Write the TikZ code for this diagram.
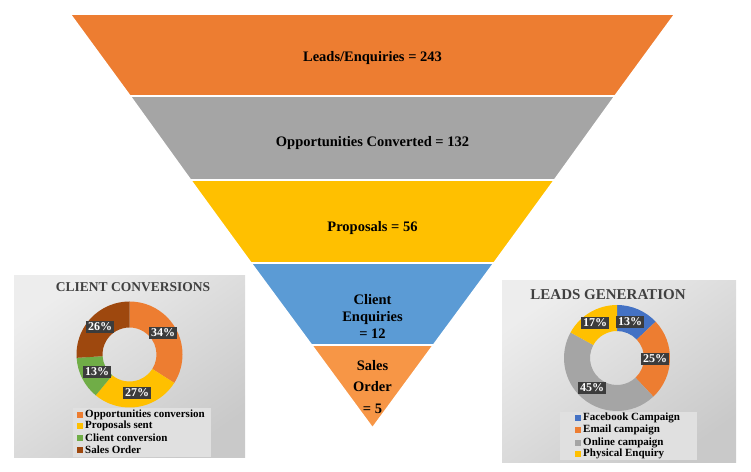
\documentclass[tikz,border=0pt]{standalone}
\usepackage{fontspec}
\setmainfont{Liberation Serif}
\usetikzlibrary{calc,positioning}
\definecolor{leadOrange}{HTML}{ED7D31}
\definecolor{oppGray}{HTML}{A5A5A5}
\definecolor{propYellow}{HTML}{FFC000}
\definecolor{clientBlue}{HTML}{5B9BD5}
\definecolor{salesOrange}{HTML}{F79646}
\definecolor{fbBlue}{HTML}{4472C4}
\definecolor{convGreen}{HTML}{70AD47}
\definecolor{orderBrown}{HTML}{9E480E}
\definecolor{titleGray}{HTML}{404040}
\definecolor{pctGray}{HTML}{3C3C3C}
\newcommand{\OuterR}{53pt}
\newcommand{\InnerR}{27pt}
\newcommand{\DonutSlice}[4]% #1=centre, #2 start angle, #3 end angle, #4 colour
{\fill[#4] ($(#1)+(#2:\OuterR)$) arc[start angle=#2, end angle=#3, radius=\OuterR]
   -- ($(#1)+(#3:\InnerR)$) arc[start angle=#3, end angle=#2, radius=\InnerR] -- cycle;
}
\newcommand{\LegendMark}[2]% #1=colour, #2=point left of the text
{\fill[#1] ($(#2)+(-8,-3)$) rectangle ++(6,6);
}
\begin{document}
\begin{tikzpicture}[x=1pt, y=1pt,
  band/.style={draw=white, line width=1.6pt},
  funtext/.style={font=\fontsize{14.5}{17}\selectfont\bfseries, align=center},
  charttitle/.style={font=\fontsize{13.5}{16}\selectfont\bfseries, text=titleGray},
  pct/.style={fill=pctGray, text=white, font=\fontsize{12}{14}\selectfont\bfseries, inner sep=2pt},
  legtext/.style={anchor=west, font=\fontsize{11}{12}\selectfont\bfseries, inner sep=0pt},
  chartbox/.style={top color=white!93!black, bottom color=white!79!black, shading angle=35},
  legbox/.style={fill=white!88!black}]

    %\draw (0,0) grid (751,471);
    \useasboundingbox (0,0) rectangle (751,471);

    % funnel corners
    \coordinate (L0) at (70,457);
    \coordinate (R0) at (675,457);
    \coordinate (L1) at (130,375);
    \coordinate (R1) at (615,375);
    \coordinate (L2) at (190.5,291);
    \coordinate (R2) at (554.5,291);
    \coordinate (L3) at (251,208);
    \coordinate (R3) at (494,208);
    \coordinate (L4) at (311.5,126);
    \coordinate (R4) at (433.5,126);
    \coordinate (T) at (372.5,43);

    \path[band, fill=leadOrange] (L0) -- (R0) -- (R1) -- (L1) -- cycle;
    \path[band, fill=oppGray] (L1) -- (R1) -- (R2) -- (L2) -- cycle;
    \path[band, fill=propYellow] (L2) -- (R2) -- (R3) -- (L3) -- cycle;
    \path[band, fill=clientBlue] (L3) -- (R3) -- (R4) -- (L4) -- cycle;
    \path[band, fill=salesOrange] (L4) -- (R4) -- (T) -- cycle;

    \node[funtext] (leads) at (372.5,413) {Leads/Enquiries = 243};
    \node[funtext] (opps) at (372.5,328) {Opportunities Converted = 132};
    \node[funtext] (props) at (372.5,243) {Proposals = 56};
    \node[funtext] (client) at (372.5,155) {Client\\Enquiries\\= 12};
    \node[funtext, font=\fontsize{14.5}{21.5}\selectfont\bfseries] (sales) at (372.5,84) {Sales\\Order\\= 5};

    % client conversions chart
    \path[chartbox] (14,14) rectangle (245,195);
    \node[charttitle] (ccTitle) at (133,184) {CLIENT CONVERSIONS};
    \coordinate (ccC) at (129.5,116.5);
    \DonutSlice{ccC}{90}{-32.4}{leadOrange}
    \DonutSlice{ccC}{-32.4}{-129.6}{propYellow}
    \DonutSlice{ccC}{-129.6}{-176.4}{convGreen}
    \DonutSlice{ccC}{-176.4}{-270}{orderBrown}
    \node[pct] (cc34) at (163,138) {34\%};
    \node[pct] (cc27) at (137,78) {27\%};
    \node[pct] (cc13) at (97,99) {13\%};
    \node[pct] (cc26) at (100,144) {26\%};

    \path[legbox] (73,14) rectangle (211,63);
    \node[legtext] (ccL1) at (85,56) {Opportunities conversion};
    \node[legtext] (ccL2) at (85,45) {Proposals sent};
    \node[legtext] (ccL3) at (85,33) {Client conversion};
    \node[legtext] (ccL4) at (85,21) {Sales Order};
    \LegendMark{leadOrange}{ccL1.west}
    \LegendMark{propYellow}{ccL2.west}
    \LegendMark{convGreen}{ccL3.west}
    \LegendMark{orderBrown}{ccL4.west}

    % leads generation chart
    \path[chartbox] (502,9) rectangle (736,190);
    \node[charttitle, font=\fontsize{15}{17}\selectfont\bfseries] (lgTitle) at (608,176) {LEADS GENERATION};
    \coordinate (lgC) at (617,113);
    \DonutSlice{lgC}{90}{43.2}{fbBlue}
    \DonutSlice{lgC}{43.2}{-46.8}{leadOrange}
    \DonutSlice{lgC}{-46.8}{-208.8}{oppGray}
    \DonutSlice{lgC}{-208.8}{-270}{propYellow}
    \node[pct] (lg13) at (630,149) {13\%};
    \node[pct] (lg25) at (655,112) {25\%};
    \node[pct] (lg45) at (592,83) {45\%};
    \node[pct] (lg17) at (595,148) {17\%};

    \path[legbox] (560,11) rectangle (697,59);
    \node[legtext] (lgL1) at (583,53) {Facebook Campaign};
    \node[legtext] (lgL2) at (583,41) {Email campaign};
    \node[legtext] (lgL3) at (583,28) {Online campaign};
    \node[legtext] (lgL4) at (583,17) {Physical Enquiry};
    \LegendMark{fbBlue}{lgL1.west}
    \LegendMark{leadOrange}{lgL2.west}
    \LegendMark{oppGray}{lgL3.west}
    \LegendMark{propYellow}{lgL4.west}

\end{tikzpicture}
\end{document}
